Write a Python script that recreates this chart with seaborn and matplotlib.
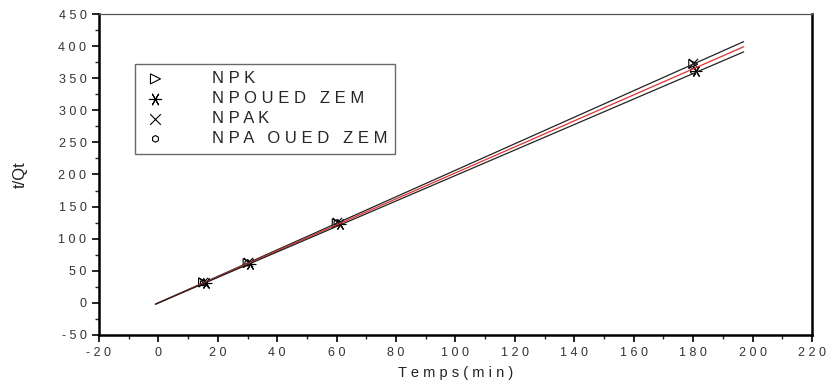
import matplotlib
matplotlib.use("Agg")
import matplotlib.pyplot as plt
import seaborn as sns
import pandas as pd
from matplotlib.ticker import MultipleLocator, FuncFormatter

# ---- data ----
series = ["NPK", "NPOUED ZEM", "NPAK", "NPA OUED ZEM"]
time_npk = [15, 30, 60, 180]
time_npoued = [16, 31, 61, 181]
time_npak = [15, 30, 60, 180]
time_npaoued = [15, 30, 60, 180]
tq_npk = [32, 62, 124, 372]
tq_npoued = [31, 61, 123, 362]
tq_npak = [33, 63, 126, 374]
tq_npaoued = [31, 62, 125, 361]

fit_x = [-1, 197]
fit_upper = [-2, 407]
fit_mid = [-2, 399]
fit_lower = [-2, 391]

sns.set_theme(style="white")
plt.rcParams['font.family'] = ['Liberation Sans', 'DejaVu Sans']

rows = []
for name, xs, ys in zip(series,
                        [time_npk, time_npoued, time_npak, time_npaoued],
                        [tq_npk, tq_npoued, tq_npak, tq_npaoued]):
    for xv, yv in zip(xs, ys):
        rows.append({"Temps": xv, "tQt": yv, "serie": name})
df = pd.DataFrame(rows)

fit_df = pd.DataFrame({
    "Temps": fit_x * 3,
    "tQt": fit_upper + fit_mid + fit_lower,
    "fit": ["upper"] * 2 + ["mid"] * 2 + ["lower"] * 2,
})

fig = plt.figure(figsize=(8.29, 3.87), dpi=100)
ax = fig.add_axes([0.1194, 0.1344, 0.8601, 0.8294])

sns.lineplot(data=fit_df, x="Temps", y="tQt", hue="fit",
             palette={"upper": "#222222", "mid": "#e03030", "lower": "#222222"},
             linewidth=0.9, legend=False, ax=ax, sort=False)

markers = {"NPK": ">", "NPOUED ZEM": (6, 2, 90), "NPAK": "x", "NPA OUED ZEM": "h"}
sizes = {"NPK": 40, "NPOUED ZEM": 60, "NPAK": 45, "NPA OUED ZEM": 18}
hollow = ("NPK", "NPA OUED ZEM")
handles = []
for name in series:
    sub = df[df["serie"] == name]
    fc = "none" if name in hollow else "black"
    sns.scatterplot(data=sub, x="Temps", y="tQt", marker=markers[name],
                    s=sizes[name], facecolor=fc, edgecolor="black",
                    linewidth=0.8, color="black", ax=ax, legend=False)
    h = ax.scatter([], [], marker=markers[name], s=sizes[name] * 1.3,
                   facecolors=fc, edgecolors="black", linewidths=0.8)
    handles.append(h)

ax.set_xlim(-20, 220)
ax.set_ylim(-50, 450)
ax.xaxis.set_major_locator(MultipleLocator(20))
ax.xaxis.set_minor_locator(MultipleLocator(10))
ax.yaxis.set_major_locator(MultipleLocator(50))
ax.yaxis.set_minor_locator(MultipleLocator(25))

spaced = FuncFormatter(lambda v, p: " ".join(str(int(round(v)))))
ax.xaxis.set_major_formatter(spaced)
ax.yaxis.set_major_formatter(spaced)

ax.tick_params(axis="both", which="major", direction="out", length=5, width=1.2,
               labelsize=9, colors="black", bottom=True, left=True, pad=4)
ax.tick_params(axis="both", which="minor", direction="out", length=3, width=1.0,
               bottom=True, left=True)
for lbl in ax.get_xticklabels() + ax.get_yticklabels():
    lbl.set_color("#333333")

for side in ["left", "bottom", "right"]:
    ax.spines[side].set_linewidth(1.8)
    ax.spines[side].set_color("black")
ax.spines["top"].set_linewidth(0.9)
ax.spines["top"].set_color("#555555")

ax.set_xlabel("T e m p s ( m i n )", fontsize=10.5, color="#222222", labelpad=5)
ax.set_ylabel("t/Qt", fontsize=12, color="#222222", labelpad=22)

leg = ax.legend(handles, [" ".join(s) for s in series],
                loc="upper left", bbox_to_anchor=(0.05, 0.845),
                frameon=True, fancybox=False, edgecolor="#444444",
                fontsize=12, handletextpad=2.6, borderpad=0.45,
                labelspacing=0.3, handlelength=1.6, borderaxespad=0)
leg.get_frame().set_linewidth(1.0)

fig.savefig("out.png", dpi=100)
